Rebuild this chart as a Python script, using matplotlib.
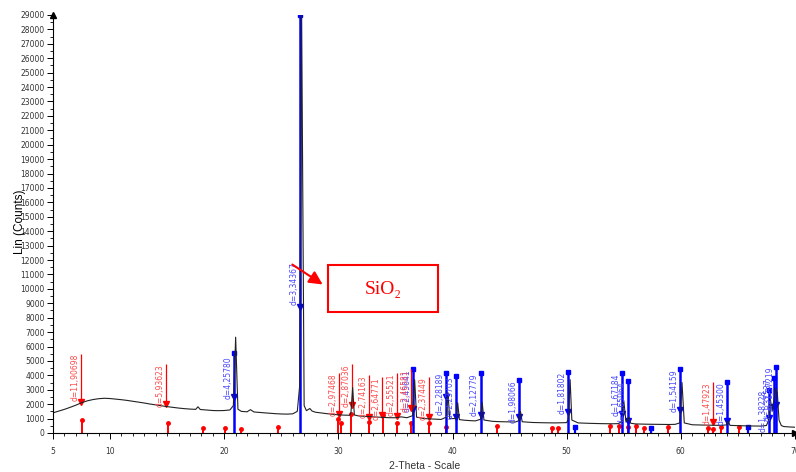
import numpy as np
import matplotlib.pyplot as plt
from matplotlib.patches import Rectangle

theta = [5.0, 5.5, 6.0, 6.5, 7.0, 7.5, 8.0, 8.5, 9.0, 9.5, 10.0, 10.5, 11.0, 11.5,
         12.0, 12.5, 13.0, 13.5, 14.0, 14.5, 15.0, 15.5, 16.0, 16.5, 17.0, 17.5,
         17.7, 17.9, 18.5, 19.0, 19.5, 20.0, 20.5, 20.8, 21.0, 21.2, 21.5, 22.0,
         22.3, 22.6, 23.0, 23.5, 24.0, 24.5, 25.0, 25.5, 26.0, 26.4, 26.6, 26.78,
         27.0, 27.2, 27.5, 27.7, 28.0, 28.5, 29.0, 29.5, 30.0, 30.5, 31.0, 31.1,
         31.25, 31.4, 31.8, 32.5, 33.0, 33.5, 34.0, 34.5, 35.0, 35.5, 36.0, 36.5,
         36.68, 36.85, 37.5, 38.0, 38.5, 39.0, 39.45, 39.6, 39.75, 40.3, 40.45,
         40.6, 41.0, 41.5, 42.0, 42.45, 42.6, 42.75, 43.5, 44.0, 44.5, 45.0, 45.5,
         45.8, 45.95, 46.1, 47.0, 48.0, 49.0, 50.0, 50.15, 50.3, 50.45, 51.0, 52.0,
         53.0, 54.0, 54.5, 54.85, 55.0, 55.2, 55.45, 55.6, 56.0, 57.0, 58.0, 59.0,
         59.5, 59.9, 60.1, 60.3, 61.0, 62.0, 63.0, 63.5, 64.0, 64.15, 64.3, 65.0,
         66.0, 67.0, 67.5, 67.7, 67.85, 68.0, 68.3, 68.45, 68.6, 68.8, 69.0, 69.5,
         70.0]
counts = [1400, 1520, 1640, 1780, 1930, 2100, 2230, 2320, 2380, 2410, 2390, 2350, 2310, 2260,
          2200, 2140, 2080, 2010, 1950, 1890, 1830, 1780, 1730, 1690, 1660, 1640,
          1820, 1630, 1590, 1560, 1550, 1560, 1600, 1900, 6650, 1650, 1500, 1470,
          1620, 1460, 1430, 1400, 1370, 1340, 1320, 1310, 1330, 1500, 3200, 29000,
          1900, 1550, 1700, 1520, 1440, 1390, 1340, 1300, 1260, 1240, 1230, 1400,
          3150, 1250, 1180, 1150, 1120, 1100, 1080, 1060, 1060, 1120, 1060, 1200,
          3700, 1100, 1000, 980, 960, 940, 1100, 2800, 1000, 1000, 2100,
          930, 890, 860, 840, 950, 2100, 900, 810, 790, 780, 770, 760,
          850, 1500, 780, 730, 710, 700, 720, 1000, 3700, 900, 700, 670,
          650, 640, 650, 800, 2250, 750, 1100, 680, 630, 610, 600, 590,
          600, 700, 3500, 700, 570, 550, 540, 530, 560, 850, 530, 510,
          490, 480, 520, 900, 2300, 1500, 3100, 2800, 900, 520, 450, 420,
          400]

# SiO2 (blue) reference peaks with labels
sio2_x = [20.85, 26.64, 36.54, 39.46, 40.29, 42.45, 45.79, 50.14, 54.87, 55.33,
          59.96, 64.04, 67.74, 68.14, 68.31]
sio2_d = ['d=4,25780', 'd=3,34367', 'd=2,45641', 'd=2,28189', 'd=2,23703', 'd=2,12779',
          'd=1,98066', 'd=1,81802', 'd=1,67184', 'd=1,65964', 'd=1,54159', 'd=1,45300',
          'd=1,38228', 'd=1,37537', 'd=1,37219']
sio2_h = [5550, 29000, 4440, 4160, 3950, 4160, 3680, 4230, 4160, 3610,
          4440, 3540, 2980, 3800, 4580]
sio2_top = [5300, 11870, 4440, 4160, 3950, 4160, 3680, 4230, 4160, 3610,
            4440, 3540, 2980, 3800, 4580]
sio2_tri = [2500, 8740, 1670, 2500, 1100, 1250, 1110, 1460, 1320, 830,
            1600, 830, 1040, 1800, 1950]

# second phase (red) labelled peaks
red_x = [7.42, 14.91, 30.02, 31.2, 32.7, 33.85, 35.1, 36.4, 37.9, 62.85]
red_d = ['d=11,90698', 'd=5,93623', 'd=2,97468', 'd=2,87036', 'd=2,74163',
         'd=2,64771', 'd=2,55521', 'd=2,46581', 'd=2,37449', 'd=1,47923']
red_top = [5480, 4790, 4160, 4790, 4020, 3880, 4160, 4440, 3880, 3540]
red_tri = [2150, 2010, 1320, 1940, 1110, 1250, 1180, 1750, 1110, 760]

# red reference sticks at the bottom
red_stick_x = [7.5, 15.1, 18.1, 20.1, 21.5, 24.7, 30.0, 30.2, 31.13, 32.7, 33.9,
               35.1, 36.4, 37.9, 39.4, 43.9, 48.7, 49.2, 53.8, 54.6, 55.4, 56.1,
               56.8, 58.9, 62.4, 62.8, 63.5, 65.1]
red_stick_h = [900, 690, 350, 350, 280, 420, 970, 700, 1300, 760, 1250,
               690, 690, 690, 420, 490, 350, 350, 490, 490, 420, 490,
               350, 420, 350, 300, 420, 420]

# minor blue sticks
blue_stick_x = [50.7, 57.4, 65.9]
blue_stick_h = [420, 350, 420]

red = '#ff0000'
blue = '#0000ff'
red_txt = '#ff4a4a'
blue_txt = '#4848ff'

fig = plt.figure(figsize=(7.96, 4.72), dpi=100)
ax = fig.add_axes([53 / 796, 39 / 472, 742 / 796, 418 / 472])

# reference sticks
ax.vlines(red_stick_x, 0, red_stick_h, color=red, lw=1.4)
ax.plot(red_stick_x, red_stick_h, 'o', color=red, ms=2.5)
ax.vlines(blue_stick_x, 0, blue_stick_h, color=blue, lw=1.6)
ax.plot(blue_stick_x, blue_stick_h, 's', color=blue, ms=2.5)

ax.vlines(sio2_x, 0, sio2_h, color=blue, lw=1.8)
ax.plot(sio2_x, sio2_h, 's', color=blue, ms=3)
ax.plot(sio2_x, sio2_tri, 'v', color=blue, ms=4)

ax.vlines(red_x, red_tri, red_top, color=red, lw=0.9)
ax.plot(red_x, red_tri, 'v', color=red, ms=4)

# measured curve
ax.plot(theta, counts, color='#222222', lw=0.8)

for x, t, top in zip(sio2_x, sio2_d, sio2_top):
    ax.annotate(t, (x, top), xytext=(-1, 0), textcoords='offset points',
                rotation=90, ha='right', va='top', fontsize=5.5, color=blue_txt)
for x, t, top in zip(red_x, red_d, red_top):
    ax.annotate(t, (x, top), xytext=(-1, 0), textcoords='offset points',
                rotation=90, ha='right', va='top', fontsize=5.5, color=red_txt)

ax.set_xlim(5, 70)
ax.set_ylim(0, 29000)
ax.spines['top'].set_visible(False)
ax.spines['right'].set_visible(False)
for s in ['left', 'bottom']:
    ax.spines[s].set_linewidth(0.8)
ax.plot([0], [1], '^', color='black', ms=4, transform=ax.transAxes, clip_on=False)
ax.plot([1], [0], '>', color='black', ms=4, transform=ax.transAxes, clip_on=False)

ax.set_yticks(np.arange(0, 29001, 1000))
ax.set_yticks(np.arange(500, 29000, 1000), minor=True)
ax.set_xticks([5, 10, 20, 30, 40, 50, 60, 70])
ax.set_xticks(np.arange(5, 71, 1), minor=True)
ax.tick_params(axis='both', which='major', labelsize=5.5, length=4, width=0.7,
               labelcolor='#333333')
ax.tick_params(axis='both', which='minor', length=2.5, width=0.6)
ax.tick_params(axis='x', pad=6)
ax.tick_params(axis='y', pad=2)

fig.text(20 / 796, 1 - 222 / 472, 'Lin (Counts)', rotation=90, ha='center', va='center',
         fontsize=8.5, family='Liberation Sans')
fig.text(425 / 796, 1 - 466 / 472, '2-Theta - Scale', ha='center', va='center',
         fontsize=7.5, family='Liberation Sans', color='#333333')

# SiO2 callout
ax.annotate('', xy=(325 / 796, 1 - 286 / 472), xytext=(290 / 796, 1 - 263 / 472),
            xycoords='figure fraction', textcoords='figure fraction',
            arrowprops=dict(arrowstyle='-|>', color=red, lw=1.5, mutation_scale=20))
fig.add_artist(Rectangle((328 / 796, 1 - 312 / 472), 110 / 796, 47 / 472,
                         transform=fig.transFigure, fill=False, ec=red, lw=1.5))
fig.text(383 / 796, 1 - 289 / 472, 'SiO₂', color=red, fontsize=14, ha='center',
         va='center', family=['Liberation Serif', 'DejaVu Serif'])

fig.savefig('out.png', dpi=100)
